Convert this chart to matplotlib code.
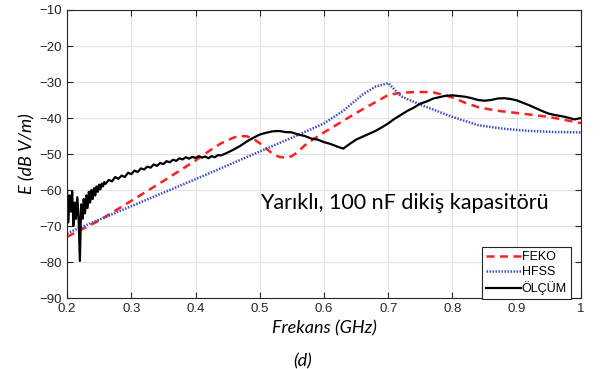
import numpy as np
import matplotlib
matplotlib.use("Agg")
import matplotlib.pyplot as plt

# FEKO (simulation)
feko_f = [0.20, 0.25, 0.30, 0.35, 0.40, 0.42, 0.44, 0.46, 0.47, 0.48, 0.49, 0.50,
          0.51, 0.52, 0.53, 0.54, 0.55, 0.56, 0.57, 0.58, 0.60, 0.65, 0.70, 0.72,
          0.74, 0.76, 0.77, 0.78, 0.80, 0.82, 0.84, 0.87, 0.90, 0.95, 1.00]
feko_e = [-73.0, -68.5, -63.0, -57.5, -51.8, -49.3, -47.0, -45.4, -45.0, -45.1, -45.8, -47.0,
          -48.5, -49.9, -50.8, -51.0, -50.6, -49.3, -47.6, -46.3, -44.0, -38.6, -33.6, -33.0,
          -32.8, -32.8, -32.9, -33.3, -34.3, -35.8, -37.0, -38.0, -38.6, -39.7, -41.4]

# HFSS (simulation)
hfss_f = [0.20, 0.30, 0.40, 0.50, 0.56, 0.60, 0.63, 0.66, 0.68, 0.70,
          0.72, 0.75, 0.80, 0.84, 0.88, 0.92, 0.96, 1.00]
hfss_e = [-72.0, -64.5, -57.0, -49.3, -44.7, -41.5, -38.0, -33.5, -31.3, -30.3,
          -34.0, -36.3, -39.7, -42.0, -43.0, -43.6, -43.9, -44.0]

# measurement (ÖLÇÜM)
olcum_f = [0.200, 0.202, 0.204, 0.206, 0.208, 0.210, 0.212, 0.214, 0.216, 0.218,
           0.220, 0.222, 0.224, 0.226, 0.228, 0.230, 0.232, 0.234, 0.236, 0.238,
           0.240, 0.242, 0.244, 0.246, 0.248, 0.250, 0.252, 0.254, 0.256, 0.258,
           0.26, 0.265, 0.27, 0.275, 0.28, 0.285, 0.29, 0.295, 0.30, 0.305,
           0.31, 0.315, 0.32, 0.325, 0.33, 0.335, 0.34, 0.345, 0.35, 0.355,
           0.36, 0.365, 0.37, 0.375, 0.38, 0.385, 0.39, 0.395, 0.40, 0.405,
           0.41, 0.415, 0.42, 0.425, 0.43, 0.435, 0.44, 0.45, 0.46, 0.47,
           0.48, 0.49, 0.50, 0.51, 0.52, 0.53, 0.54, 0.55, 0.56, 0.57,
           0.58, 0.59, 0.60, 0.61, 0.62, 0.63, 0.64, 0.65, 0.66, 0.67,
           0.68, 0.69, 0.70, 0.71, 0.72, 0.73, 0.74, 0.75, 0.76, 0.77,
           0.78, 0.79, 0.80, 0.81, 0.82, 0.83, 0.84, 0.85, 0.86, 0.87,
           0.88, 0.89, 0.90, 0.91, 0.92, 0.93, 0.94, 0.95, 0.96, 0.97,
           0.98, 0.99, 1.00]
olcum_e = [-60.0, -69.0, -61.5, -66.0, -60.5, -70.0, -63.5, -68.0, -62.0, -67.5,
           -79.7, -64.0, -68.0, -62.5, -66.5, -61.5, -65.0, -60.5, -63.5, -60.0,
           -62.5, -59.5, -61.5, -59.0, -60.5, -58.5, -59.8, -58.2, -59.0, -57.8,
           -58.3, -57.2, -57.6, -56.4, -56.9, -56.0, -56.4, -55.2, -55.6, -54.6,
           -55.0, -54.0, -54.3, -53.5, -53.8, -52.9, -53.3, -52.5, -52.8, -52.0,
           -52.3, -51.6, -51.9, -51.2, -51.5, -50.9, -51.3, -50.8, -51.1, -50.6,
           -51.0, -50.7, -51.2, -50.6, -50.9, -50.3, -50.4, -49.6, -48.7, -47.7,
           -46.5, -45.5, -44.6, -44.1, -43.7, -43.6, -43.9, -44.0, -44.6, -45.0,
           -45.7, -46.0, -46.7, -47.2, -47.9, -48.5, -47.2, -46.0, -45.2, -44.4,
           -43.6, -42.6, -41.5, -40.2, -39.1, -38.0, -37.1, -36.0, -35.4, -34.6,
           -34.2, -33.8, -33.7, -33.9, -34.1, -34.5, -35.0, -35.2, -35.0, -34.6,
           -34.5, -34.7, -35.1, -35.8, -36.5, -37.3, -38.1, -38.8, -39.2, -39.5,
           -39.9, -40.4, -40.0]

xticks = [0.2, 0.3, 0.4, 0.5, 0.6, 0.7, 0.8, 0.9, 1.0]
xticklabels = ["0.2", "0.3", "0.4", "0.5", "0.6", "0.7", "0.8", "0.9", "1"]
yticks = [-90, -80, -70, -60, -50, -40, -30, -20, -10]

fig = plt.figure(figsize=(6.0, 3.69), dpi=100)
ax = fig.add_axes([0.1117, 0.1924, 0.8566, 0.7805])

ax.plot(feko_f, feko_e, color="#ff2020", linestyle=(0, (3.2, 2.2)), linewidth=1.8, label="FEKO")
ax.plot(hfss_f, hfss_e, color="#3a4cc8", linestyle=(0, (0.6, 0.6)), linewidth=1.8, label="HFSS")
ax.plot(olcum_f, olcum_e, color="black", linewidth=1.6, label="ÖLÇÜM")

ax.set_xlim(0.2, 1.0)
ax.set_ylim(-90, -10)
ax.set_xticks(xticks)
ax.set_xticklabels(xticklabels)
ax.set_yticks(yticks)
ax.grid(True, color="#e2e2e2", linewidth=0.8)
ax.set_axisbelow(True)
ax.tick_params(direction="in", top=True, right=True, length=4, width=0.8,
               colors="#262626", labelsize=9.5)
for lab in ax.get_xticklabels() + ax.get_yticklabels():
    lab.set_fontfamily("Liberation Sans")
for s in ax.spines.values():
    s.set_color("#262626")
    s.set_linewidth(0.8)

ax.set_ylabel("E (dB V/m)", fontfamily="Lato", fontstyle="italic", fontsize=13, labelpad=3)
ax.set_xlabel("Frekans (GHz)", fontfamily="Lato", fontstyle="italic", fontsize=13, labelpad=4)
fig.text(0.505, 0.0, "(d)", fontfamily="Lato", fontstyle="italic", fontsize=13,
         ha="center", va="bottom")

ax.text(0.657, 0.33, "Yarıklı, 100 nF dikiş kapasitörü", transform=ax.transAxes,
        fontfamily="Lato", fontsize=15.5, ha="center", va="center")

leg = ax.legend(loc="lower right", bbox_to_anchor=(0.98, -0.003),
                prop={"family": "Liberation Sans", "size": 9},
                handlelength=2.8, handletextpad=0.1, borderpad=0.3,
                labelspacing=0.25, fancybox=False, framealpha=1, borderaxespad=0)
leg.get_frame().set_edgecolor("#262626")
leg.get_frame().set_linewidth(0.8)

fig.savefig("out.png", dpi=100)
